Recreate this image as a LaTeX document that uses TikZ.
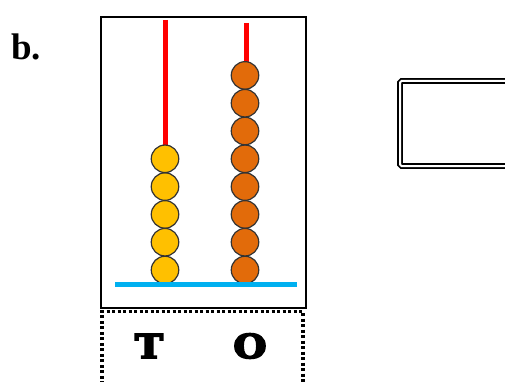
\documentclass[tikz,border=0pt]{standalone}
\usepackage{fontspec}
\setmainfont{Liberation Serif}
\newfontfamily\placefont[FakeBold=5]{DejaVu Serif}
\definecolor{rodred}{RGB}{255,0,0}
\definecolor{baseblue}{RGB}{0,176,240}
\definecolor{tensbead}{RGB}{255,192,0}
\definecolor{onesbead}{RGB}{226,107,10}

\begin{document}
\begin{tikzpicture}[x=1pt,y=-1pt,
		bead/.style={circle, draw=black!80, line width=1.2pt, minimum size=27.5pt, inner sep=0pt},
		placelabel/.style={font=\placefont\bfseries\fontsize{33}{33}\selectfont, inner sep=0pt, xscale=1.15}]
		\useasboundingbox (0,0) rectangle (505,382);
		%%%%% START %%%%%
		\node[anchor=base west, inner sep=0pt, font=\bfseries\fontsize{37}{37}\selectfont] (title) at (11,60) {b.};
		
		% abacus frame
		\draw[line width=2.6pt] (101,17) rectangle (306,308);
		\draw[line width=3.2pt, dash pattern=on 3pt off 2.5pt] (102,395) -- (102,311.5) -- (303,311.5) -- (303,395);
		
		% rods
		\draw[rodred, line width=5pt] (165,20) -- (165,150);
		\draw[rodred, line width=5pt] (246,23) -- (246,70);
		
		% beads
		\foreach \i in {0,...,4}
			\node[bead, fill=tensbead] (t\i) at (165,{270-27.8*\i}) {};
		\foreach \i in {0,...,7}
			\node[bead, fill=onesbead] (o\i) at (245,{270-27.8*\i}) {};
		
		% base
		\draw[baseblue, line width=5.5pt] (115,284.5) -- (297,284.5);
		
		\node[placelabel] (tens) at (149,346) {T};
		\node[placelabel] (ones) at (250,346) {O};
		
		% answer box
		\draw[line width=1.8pt, double, double distance=2pt, rounded corners=1.5pt] (400,81) rectangle (530,166);
		%%%%% END %%%%%
	\end{tikzpicture}
\end{document}
